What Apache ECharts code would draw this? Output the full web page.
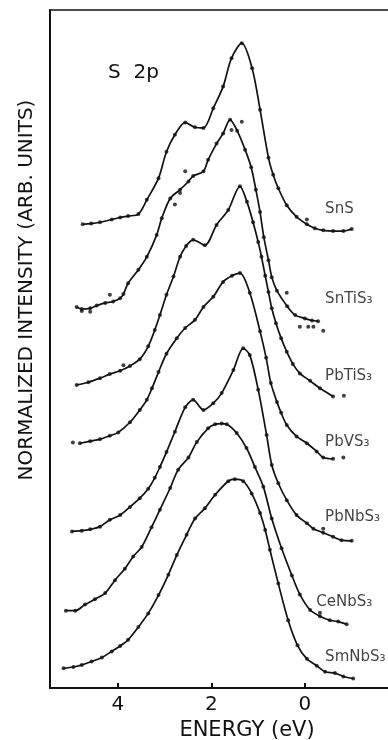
<!DOCTYPE html>
<html>
<head>
<meta charset="utf-8">
<script src="https://cdn.jsdelivr.net/npm/echarts@6/dist/echarts.min.js"></script>
<style>
  html, body { margin: 0; padding: 0; background: #fff; }
  #main { width: 388px; height: 740px; }
</style>
</head>
<body>
<div id="main"></div>
<script>
// S 2p soft X-ray emission spectra; intensities normalized and offset vertically.
const energyTicks = [4, 2, 0];
const compounds = ['SnS', 'SnTiS₃', 'PbTiS₃', 'PbVS₃', 'PbNbS₃', 'CeNbS₃', 'SmNbS₃'];

// SnS
const snsEnergy = [4.75, 4.57, 4.38, 4.13, 3.95, 3.78, 3.56, 3.38, 3.13, 2.96, 2.78, 2.56, 2.35, 2.17, 1.96, 1.75, 1.57, 1.35, 1.13, 0.96, 0.78, 0.68, 0.57, 0.39, 0.18, -0.04, -0.21, -0.39, -0.60, -0.82, -1.00];
const snsIntensity = [6.84, 6.85, 6.87, 6.91, 6.94, 6.96, 6.99, 7.20, 7.52, 7.91, 8.16, 8.34, 8.27, 8.26, 8.55, 8.87, 9.29, 9.51, 9.14, 8.53, 7.82, 7.57, 7.37, 7.12, 6.95, 6.84, 6.78, 6.75, 6.74, 6.74, 6.77];
const snsScatterEnergy = [-0.04];
const snsScatterIntensity = [6.91];

// SnTiS3
const sntiEnergy = [4.88, 4.77, 4.59, 4.45, 4.27, 4.10, 3.95, 3.88, 3.78, 3.56, 3.38, 3.17, 3.06, 2.88, 2.67, 2.49, 2.39, 2.17, 2.07, 1.89, 1.75, 1.60, 1.45, 1.28, 1.15, 1.05, 0.96, 0.88, 0.78, 0.71, 0.60, 0.38, 0.21, 0.00, -0.15, -0.28];
const sntiIntensity = [5.62, 5.59, 5.60, 5.64, 5.68, 5.70, 5.75, 5.81, 5.97, 6.17, 6.36, 6.68, 6.93, 7.22, 7.35, 7.47, 7.55, 7.62, 7.79, 8.03, 8.18, 8.38, 8.22, 7.94, 7.68, 7.35, 7.02, 6.65, 6.31, 6.06, 5.86, 5.63, 5.50, 5.45, 5.42, 5.41];
const sntiScatterEnergy = [4.77, 4.59, 4.17, 2.78, 2.67, 2.56, 1.57, 1.35, 0.39, 0.11, -0.07, -0.18, -0.39];
const sntiScatterIntensity = [5.56, 5.55, 5.80, 7.13, 7.30, 7.62, 8.23, 8.35, 5.83, 5.33, 5.33, 5.33, 5.27];

// PbTiS3
const pbtiEnergy = [4.88, 4.63, 4.38, 4.17, 3.95, 3.74, 3.53, 3.35, 3.21, 3.10, 2.96, 2.81, 2.67, 2.54, 2.39, 2.14, 1.89, 1.64, 1.39, 1.24, 1.11, 1.00, 0.93, 0.85, 0.78, 0.71, 0.62, 0.51, 0.39, 0.26, 0.11, -0.11, -0.32, -0.60];
const pbtiIntensity = [4.47, 4.51, 4.57, 4.63, 4.68, 4.75, 4.85, 5.04, 5.28, 5.50, 5.80, 6.07, 6.36, 6.52, 6.61, 6.53, 6.83, 7.05, 7.40, 7.17, 6.87, 6.58, 6.36, 6.08, 5.84, 5.60, 5.38, 5.16, 4.96, 4.78, 4.64, 4.53, 4.42, 4.30];
const pbtiScatterEnergy = [3.88, -0.83];
const pbtiScatterIntensity = [4.76, 4.31];

// PbVS3
const pbvEnergy = [4.81, 4.59, 4.38, 4.17, 3.99, 3.74, 3.53, 3.38, 3.27, 3.13, 2.96, 2.74, 2.56, 2.35, 2.17, 1.96, 1.75, 1.56, 1.39, 1.18, 0.96, 0.83, 0.73, 0.60, 0.51, 0.39, 0.18, -0.04, -0.25, -0.39, -0.60];
const pbvIntensity = [3.61, 3.64, 3.67, 3.72, 3.77, 3.92, 4.10, 4.25, 4.42, 4.66, 4.93, 5.16, 5.31, 5.43, 5.62, 5.77, 5.99, 6.08, 6.12, 5.83, 5.26, 4.87, 4.50, 4.22, 4.06, 3.88, 3.71, 3.61, 3.49, 3.40, 3.38];
const pbvScatterEnergy = [4.96, -0.82];
const pbvScatterIntensity = [3.62, 3.40];

// PbNbS3
const pbnbEnergy = [4.98, 4.77, 4.59, 4.38, 4.17, 3.95, 3.74, 3.53, 3.35, 3.21, 3.10, 2.96, 2.78, 2.56, 2.39, 2.17, 1.96, 1.78, 1.53, 1.32, 1.18, 1.00, 0.82, 0.71, 0.57, 0.39, 0.18, -0.04, -0.18, -0.39, -0.60, -0.78, -1.00];
const pbnbIntensity = [2.31, 2.32, 2.34, 2.38, 2.48, 2.55, 2.67, 2.80, 2.94, 3.10, 3.26, 3.48, 3.78, 4.14, 4.25, 4.10, 4.20, 4.35, 4.69, 5.01, 4.91, 4.40, 3.73, 3.29, 3.02, 2.77, 2.55, 2.43, 2.35, 2.29, 2.23, 2.18, 2.17];
const pbnbScatterEnergy = [-0.39];
const pbnbScatterIntensity = [2.35];

// CeNbS3
const cenbEnergy = [5.11, 4.91, 4.70, 4.49, 4.27, 4.06, 3.85, 3.67, 3.49, 3.28, 3.10, 2.88, 2.71, 2.49, 2.31, 2.07, 1.92, 1.78, 1.67, 1.46, 1.25, 1.07, 0.89, 0.71, 0.50, 0.28, 0.11, -0.11, -0.32, -0.53, -0.71, -0.89];
const cenbIntensity = [1.14, 1.14, 1.23, 1.31, 1.40, 1.59, 1.76, 1.94, 2.08, 2.37, 2.63, 2.95, 3.22, 3.40, 3.63, 3.83, 3.89, 3.90, 3.89, 3.76, 3.54, 3.26, 2.97, 2.50, 2.06, 1.66, 1.38, 1.15, 1.06, 1.00, 0.98, 0.94];
const cenbScatterEnergy = [-0.32];
const cenbScatterIntensity = [1.11];

// SmNbS3
const smnbEnergy = [5.16, 4.95, 4.77, 4.56, 4.34, 4.13, 3.95, 3.78, 3.56, 3.35, 3.13, 2.92, 2.74, 2.53, 2.35, 2.14, 1.92, 1.64, 1.50, 1.32, 1.14, 0.96, 0.85, 0.75, 0.57, 0.36, 0.16, -0.04, -0.25, -0.43, -0.64, -0.82, -1.03];
const smnbIntensity = [0.29, 0.31, 0.34, 0.39, 0.45, 0.54, 0.62, 0.71, 0.90, 1.10, 1.37, 1.67, 1.96, 2.26, 2.50, 2.65, 2.85, 3.05, 3.08, 3.05, 2.87, 2.58, 2.33, 2.04, 1.54, 1.00, 0.63, 0.43, 0.33, 0.24, 0.22, 0.17, 0.14];
const smnbScatterEnergy = [];
const smnbScatterIntensity = [];

const curves = [
  [snsEnergy, snsIntensity, snsScatterEnergy, snsScatterIntensity],
  [sntiEnergy, sntiIntensity, sntiScatterEnergy, sntiScatterIntensity],
  [pbtiEnergy, pbtiIntensity, pbtiScatterEnergy, pbtiScatterIntensity],
  [pbvEnergy, pbvIntensity, pbvScatterEnergy, pbvScatterIntensity],
  [pbnbEnergy, pbnbIntensity, pbnbScatterEnergy, pbnbScatterIntensity],
  [cenbEnergy, cenbIntensity, cenbScatterEnergy, cenbScatterIntensity],
  [smnbEnergy, smnbIntensity, smnbScatterEnergy, smnbScatterIntensity]
];

// where each compound name sits, in energy / intensity units
const labelAnchors = [
  [-0.43, 7.06], [-0.43, 5.74], [-0.43, 4.60], [-0.43, 3.62],
  [-0.43, 2.52], [-0.24, 1.27], [-0.43, 0.45]
];

const zip = (a, b) => a.map((v, k) => [v, b[k]]);
const FONT = 'DejaVu Sans';
const INK = '#111';

const series = [];
curves.forEach(([e, i, se, si], k) => {
  series.push({
    name: compounds[k],
    type: 'line',
    data: zip(e, i),
    smooth: 0.3,
    showSymbol: false,
    lineStyle: { color: INK, width: 1.7 },
    z: 3
  });
  series.push({
    name: compounds[k] + ' points',
    type: 'scatter',
    data: zip(e, i).concat(zip(se, si)),
    symbolSize: 4,
    itemStyle: { color: INK },
    z: 4
  });
});

series.push({
  name: 'names',
  type: 'scatter',
  symbolSize: 0,
  data: labelAnchors.map((p, k) => ({ value: p, name: compounds[k] })),
  label: {
    show: true,
    position: 'right',
    distance: 0,
    formatter: p => p.name,
    fontFamily: FONT,
    fontSize: 15,
    color: INK
  },
  z: 5
});

const axisInk = { color: INK, width: 2 };

const option = {
  animation: false,
  backgroundColor: '#ffffff',
  textStyle: { fontFamily: FONT },
  grid: { left: 50, right: 0, top: 10, bottom: 52 },
  xAxis: [
    {
      type: 'value',
      min: -1.774,
      max: 5.449,
      inverse: true,
      position: 'bottom',
      axisLine: { show: true, onZero: false, lineStyle: axisInk },
      axisTick: { show: true, inside: true, length: 5, lineStyle: axisInk, customValues: energyTicks },
      axisLabel: { customValues: energyTicks, fontFamily: FONT, fontSize: 20, color: INK, margin: 7 },
      splitLine: { show: false }
    },
    {
      type: 'value',
      min: -1.774,
      max: 5.449,
      inverse: true,
      position: 'top',
      axisLine: { show: true, onZero: false, lineStyle: { color: INK, width: 1.6 } },
      axisTick: { show: false },
      axisLabel: { show: false },
      splitLine: { show: false }
    }
  ],
  yAxis: {
    type: 'value',
    min: 0,
    max: 10,
    position: 'left',
    axisLine: { show: true, onZero: false, lineStyle: axisInk },
    axisTick: { show: false },
    axisLabel: { show: false },
    splitLine: { show: false }
  },
  graphic: [
    {
      type: 'text',
      x: 108, y: 73,
      style: { text: 'S  2p', font: '20px "DejaVu Sans"', fill: INK, textVerticalAlign: 'middle' }
    },
    {
      type: 'text',
      x: 247, y: 731,
      style: { text: 'ENERGY (eV)', font: '21px "DejaVu Sans"', fill: INK, textAlign: 'center', textVerticalAlign: 'middle' }
    },
    {
      type: 'text',
      x: 26.5, y: 290,
      rotation: Math.PI / 2,
      style: { text: 'NORMALIZED INTENSITY (ARB. UNITS)', font: '20px "DejaVu Sans"', fill: INK, textAlign: 'center', textVerticalAlign: 'middle' }
    }
  ],
  series
};

const chart = echarts.init(document.getElementById('main'), null, { renderer: 'canvas' });
chart.setOption(option);
</script>
</body>
</html>
